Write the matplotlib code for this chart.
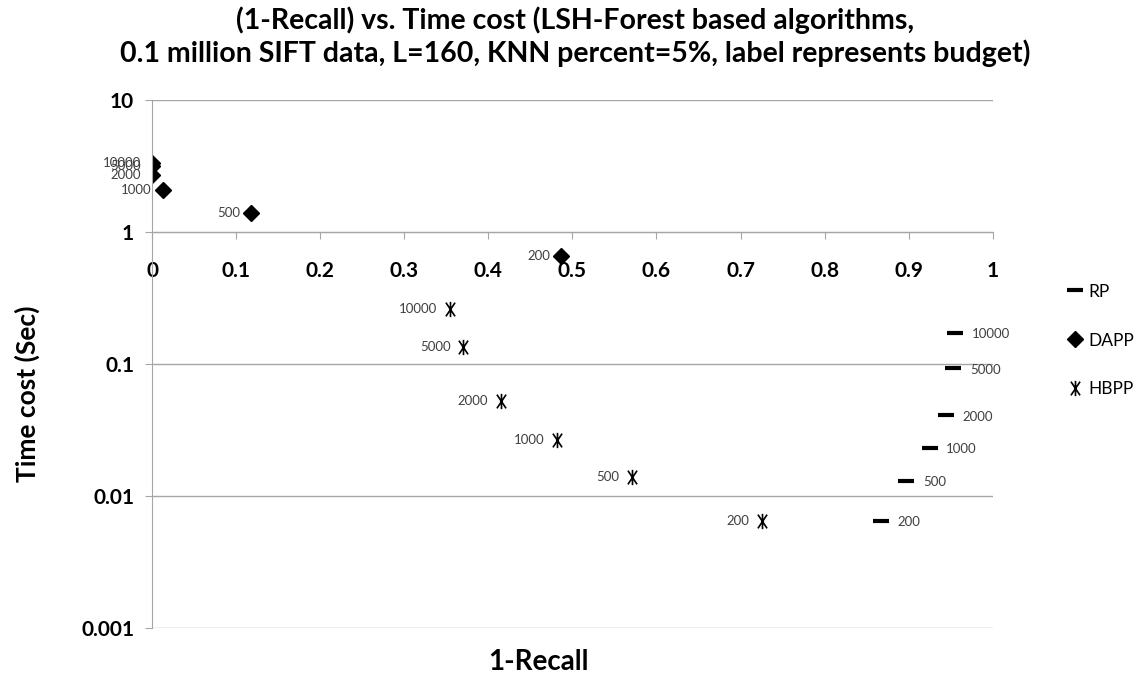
import matplotlib.pyplot as plt
from matplotlib.path import Path
import numpy as np

plt.rcParams['font.family'] = ['Lato', 'DejaVu Sans']

# budgets (labels) for each series
rp_budget = ['10000', '5000', '2000', '1000', '500', '200']
rp_recall = [0.955, 0.953, 0.944, 0.925, 0.897, 0.867]
rp_time = [0.172, 0.093, 0.041, 0.0231, 0.013, 0.0065]

dapp_budget = ['10000', '5000', '2000', '1000', '500', '200']
dapp_recall = [0.0, 0.0, 0.0, 0.013, 0.118, 0.487]
dapp_time = [3.33, 3.15, 2.7, 2.08, 1.39, 0.66]

hbpp_budget = ['10000', '5000', '2000', '1000', '500', '200']
hbpp_recall = [0.354, 0.370, 0.415, 0.482, 0.571, 0.725]
hbpp_time = [0.261, 0.135, 0.0525, 0.0266, 0.0139, 0.0065]

# asterisk like excel's marker
star = Path([(0, -1), (0, 1), (-0.6, -0.9), (0.6, 0.9), (-0.6, 0.9), (0.6, -0.9)],
            [Path.MOVETO, Path.LINETO, Path.MOVETO, Path.LINETO, Path.MOVETO, Path.LINETO])

fig = plt.figure(figsize=(11.45, 6.81), dpi=100)
ax = fig.add_axes([0.1328, 0.0778, 0.867 - 0.1328, 0.853 - 0.0778])

ax.plot(rp_recall, rp_time, ls='none', marker='_', ms=12, mew=3, color='black', label='RP')
ax.plot(dapp_recall, dapp_time, ls='none', marker='D', ms=8, color='black', label='DAPP')
ax.plot(hbpp_recall, hbpp_time, ls='none', marker=star, ms=11, mew=1.2, color='black',
        label='HBPP')

lab = dict(fontsize=9.5, color='#404040', va='center')
for x, y, t in zip(rp_recall, rp_time, rp_budget):
    ax.annotate(t, (x, y), xytext=(12, -1), textcoords='offset points', ha='left', **lab)
for x, y, t in zip(dapp_recall, dapp_time, dapp_budget):
    ax.annotate(t, (x, y), xytext=(-8, 0), textcoords='offset points', ha='right', **lab)
for x, y, t in zip(hbpp_recall, hbpp_time, hbpp_budget):
    ax.annotate(t, (x, y), xytext=(-9, 0), textcoords='offset points', ha='right', **lab)

ax.set_yscale('log')
ax.set_ylim(0.001, 10)
ax.set_xlim(0, 1)
ax.set_yticks([0.001, 0.01, 0.1, 1, 10])
ax.set_yticklabels(['0.001', '0.01', '0.1', '1', '10'])
ax.minorticks_off()
ax.set_xticks(np.arange(0, 1.01, 0.1))
ax.set_xticklabels(['0', '0.1', '0.2', '0.3', '0.4', '0.5', '0.6', '0.7', '0.8', '0.9', '1'])

ax.grid(axis='y', color='#A6A6A6', lw=1)
ax.set_axisbelow(True)
for s in ['top', 'right']:
    ax.spines[s].set_visible(False)
ax.spines['bottom'].set_position(('data', 1))
ax.spines['bottom'].set_color('#A6A6A6')
ax.spines['left'].set_color('#A6A6A6')
ax.tick_params(axis='x', direction='out', length=5, color='#A6A6A6', pad=16,
               labelsize=15)
ax.tick_params(axis='y', direction='out', length=5, color='#A6A6A6', pad=8,
               labelsize=15)
for t in ax.get_xticklabels() + ax.get_yticklabels():
    t.set_fontweight('bold')

ax.set_ylabel('Time cost (Sec)', fontsize=19, fontweight='bold')
ax.yaxis.set_label_coords(-0.133, 0.443)
fig.text(0.47, 0.028, '1-Recall', fontsize=20, fontweight='bold', ha='center', va='center')

fig.suptitle('(1-Recall) vs. Time cost (LSH-Forest based algorithms,\n'
             '0.1 million SIFT data, L=160, KNN percent=5%, label represents budget)',
             x=0.502, y=0.99, fontsize=20.5, fontweight='bold', linespacing=1.2)

fig.legend(loc='center left', bbox_to_anchor=(0.925, 0.5), frameon=False, fontsize=12.5,
           labelspacing=1.9, handlelength=0.8, handletextpad=0.4, borderpad=0)

fig.savefig('out.png', dpi=100)
